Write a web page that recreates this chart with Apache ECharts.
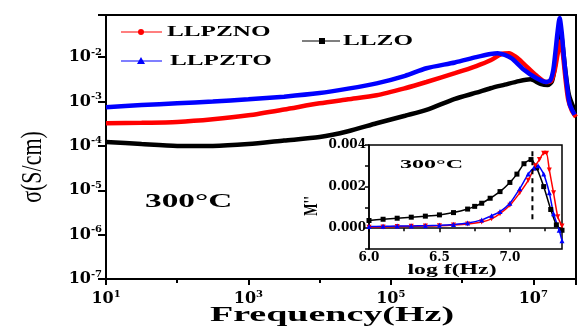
<!DOCTYPE html>
<html>
<head>
<meta charset="utf-8">
<script src="https://cdn.jsdelivr.net/npm/echarts@6/dist/echarts.min.js"></script>
<style>
  html, body { margin: 0; padding: 0; background: #fff; }
  #chart { width: 579px; height: 327px; }
</style>
</head>
<body>
<div id="chart"></div>
<script>
// 主图: log10(f) 与 log10(σ)
const mainLogF = {
  LLPZTO: [1.0, 1.5, 2.0, 2.5, 3.0, 3.5, 4.0, 4.4, 4.8, 5.2, 5.5, 5.9, 6.2, 6.4, 6.5, 6.6, 6.7, 6.86, 7.04, 7.18, 7.24, 7.28, 7.31, 7.34, 7.37, 7.4, 7.43, 7.47, 7.51, 7.58],
  LLPZNO: [1.0, 1.5, 2.0, 2.5, 3.0, 3.5, 4.0, 4.4, 4.8, 5.2, 5.5, 5.9, 6.2, 6.4, 6.55, 6.66, 6.76, 6.86, 7.04, 7.18, 7.25, 7.3, 7.34, 7.38, 7.41, 7.45, 7.49, 7.54, 7.6],
  LLZO:   [1.0, 1.5, 2.0, 2.5, 3.0, 3.5, 4.0, 4.4, 4.8, 5.2, 5.5, 5.9, 6.2, 6.4, 6.6, 6.8, 6.96, 7.1, 7.2, 7.26, 7.3, 7.34, 7.38, 7.41, 7.45, 7.5, 7.58]
};
const mainLogSigma = {
  LLPZTO: [-3.13, -3.08, -3.04, -3.0, -2.95, -2.89, -2.81, -2.71, -2.59, -2.42, -2.25, -2.12, -2.0, -1.93, -1.91, -1.95, -2.03, -2.27, -2.47, -2.56, -2.52, -2.3, -1.9, -1.45, -1.12, -1.45, -2.0, -2.6, -3.05, -3.3],
  LLPZNO: [-3.49, -3.48, -3.46, -3.4, -3.31, -3.18, -3.04, -2.95, -2.86, -2.7, -2.56, -2.36, -2.2, -2.07, -1.93, -1.91, -2.0, -2.14, -2.41, -2.56, -2.54, -2.3, -1.95, -1.65, -1.85, -2.45, -2.95, -3.2, -3.35],
  LLZO:   [-3.91, -3.96, -4.0, -4.0, -3.96, -3.88, -3.8, -3.67, -3.49, -3.32, -3.19, -2.94, -2.8, -2.7, -2.62, -2.54, -2.5, -2.6, -2.63, -2.55, -2.25, -1.75, -1.38, -1.7, -2.3, -2.85, -3.2]
};

// 插图: log f 与 M''
const insetLogF = {
  LLZO:   [6.0, 6.1, 6.2, 6.3, 6.4, 6.5, 6.6, 6.7, 6.75, 6.8, 6.86, 6.93, 7.0, 7.05, 7.1, 7.15, 7.19, 7.24, 7.29, 7.33, 7.37],
  LLPZNO: [6.0, 6.1, 6.2, 6.3, 6.4, 6.5, 6.6, 6.7, 6.8, 6.87, 6.93, 7.0, 7.07, 7.13, 7.18, 7.21, 7.24, 7.26, 7.28, 7.31, 7.34, 7.37],
  LLPZTO: [6.0, 6.1, 6.2, 6.3, 6.4, 6.5, 6.6, 6.7, 6.8, 6.87, 6.93, 7.0, 7.07, 7.13, 7.17, 7.2, 7.24, 7.28, 7.31, 7.35, 7.37]
};
const insetM = {
  LLZO:   [0.00037, 0.00043, 0.00048, 0.00053, 0.00058, 0.00064, 0.00075, 0.00092, 0.00105, 0.0012, 0.00144, 0.00176, 0.0022, 0.0026, 0.0031, 0.0033, 0.0029, 0.002, 0.0009, 0.00016, -0.0001],
  LLPZNO: [0.00005, 0.00006, 0.00008, 0.00009, 0.0001, 0.00012, 0.00015, 0.0002, 0.0003, 0.00045, 0.0007, 0.0011, 0.0017, 0.0023, 0.003, 0.0033, 0.0036, 0.0036, 0.0028, 0.0017, 0.00055, 0.0001],
  LLPZTO: [0.00008, 0.00009, 0.0001, 0.00011, 0.00012, 0.00014, 0.00018, 0.00025, 0.0004, 0.0006, 0.0008, 0.0012, 0.0019, 0.0026, 0.0029, 0.003, 0.0026, 0.0017, 0.0007, -0.0001, -0.0006]
};
const dashLogF = [7.16, 7.16];
const dashM = [0.0037, 0.0004];

const colors = {LLPZNO: "#ff0000", LLPZTO: "#0000ff", LLZO: "#000000"};
const serif = "Liberation Serif";
const tickFont = "DejaVu Serif";

function pairs(xs, ys) {
  return xs.map((x, i) => [x, ys[i]]);
}

function supLabel(v) {
  if (Math.abs(v - Math.round(v)) > 1e-6) return "";
  return "{b|10}{s|" + Math.round(v) + "}";
}
const supRich = {
  b: {fontFamily: tickFont, fontWeight: "bold", fontSize: 16, color: "#000", lineHeight: 20},
  s: {fontFamily: tickFont, fontWeight: "bold", fontSize: 10, color: "#000", verticalAlign: "top", lineHeight: 10}
};

let chart = echarts.init(document.getElementById("chart"));

let series = [];
["LLPZNO", "LLPZTO", "LLZO"].forEach(k => {
  series.push({
    name: k, type: "line", xAxisIndex: 0, yAxisIndex: 0,
    data: pairs(mainLogF[k], mainLogSigma[k]),
    smooth: 0.25, symbol: "none",
    lineStyle: {color: colors[k], width: 4.5},
    z: k === "LLZO" ? 3 : 4
  });
});
let insetSymbols = {LLZO: "rect", LLPZNO: "triangle", LLPZTO: "triangle"};
["LLZO", "LLPZNO", "LLPZTO"].forEach(k => {
  series.push({
    name: k + "_inset", type: "line", xAxisIndex: 1, yAxisIndex: 1,
    data: pairs(insetLogF[k], insetM[k]),
    smooth: 0.2, symbol: insetSymbols[k], symbolSize: 5,
    symbolRotate: k === "LLPZNO" ? 180 : 0,
    itemStyle: {color: colors[k]},
    lineStyle: {color: colors[k], width: 1.5},
    z: 10
  });
});
series.push({
  type: "line", xAxisIndex: 1, yAxisIndex: 1,
  data: pairs(dashLogF, dashM), symbol: "none",
  lineStyle: {color: "#000", width: 2, type: [5, 4]}, z: 11
});

function legendItem(y, x0, x1, mx, sym, color, text, tx) {
  let marker;
  if (sym === "circle") marker = {type: "circle", shape: {cx: mx, cy: y, r: 3}, style: {fill: color}};
  else if (sym === "triangle") marker = {type: "polygon", shape: {points: [[mx, y - 4], [mx - 4, y + 3], [mx + 4, y + 3]]}, style: {fill: color}};
  else marker = {type: "rect", shape: {x: mx - 3, y: y - 3, width: 6, height: 6}, style: {fill: color}};
  return [
    {type: "line", shape: {x1: x0, y1: y, x2: x1, y2: y}, style: {stroke: color, lineWidth: 1.2}},
    marker,
    {type: "text", x: tx, y: y, scaleX: 1.8, style: {text: text, font: "bold 14px " + serif, fill: "#000", textVerticalAlign: "middle"}}
  ];
}

let graphics = []
  .concat(legendItem(32, 121, 162, 141, "circle", colors.LLPZNO, "LLPZNO", 167))
  .concat(legendItem(61, 121, 162, 141, "triangle", colors.LLPZTO, "LLPZTO", 170))
  .concat(legendItem(41, 302, 340, 322, "rect", colors.LLZO, "LLZO", 343));
graphics.push(
  {type: "text", x: 145, y: 202, scaleX: 1.85, style: {text: "300°C", font: "bold 18px " + serif, fill: "#000", textVerticalAlign: "middle"}},
  {type: "text", x: 400, y: 165, scaleX: 1.85, z: 20, style: {text: "300°C", font: "bold 13px " + serif, fill: "#000", textVerticalAlign: "middle"}},
  {type: "text", x: 332, y: 316, scaleX: 1.9, style: {text: "Frequency(Hz)", font: "bold 20px " + serif, fill: "#000", textAlign: "center", textVerticalAlign: "middle"}},
  {type: "text", x: 33, y: 167, rotation: Math.PI / 2, scaleY: 1.3, style: {text: "σ(S/cm)", font: "22px " + serif, fill: "#000", textAlign: "center", textVerticalAlign: "middle"}},
  {type: "text", x: 312, y: 206, rotation: Math.PI / 2, scaleY: 1.4, style: {text: "M''", font: "bold 13px " + serif, fill: "#000", textAlign: "center", textVerticalAlign: "middle"}},
  {type: "text", x: 452, y: 270, scaleX: 1.7, z: 20, style: {text: "log f(Hz)", font: "bold 14px " + serif, fill: "#000", textAlign: "center", textVerticalAlign: "middle"}}
);

chart.setOption({
  animation: false,
  backgroundColor: "#fff",
  grid: [
    {left: 106, top: 15, width: 480, height: 264, show: true, borderColor: "#000", borderWidth: 2, backgroundColor: "transparent"},
    {left: 369, top: 145, width: 193, height: 104, show: true, borderColor: "#000", borderWidth: 1.5, backgroundColor: "#fff", z: 5}
  ],
  xAxis: [
    {
      type: "value", gridIndex: 0, min: 1, max: 7.6, interval: 2,
      splitLine: {show: false},
      axisLine: {lineStyle: {color: "#000", width: 2}},
      axisTick: {length: 6, lineStyle: {color: "#000", width: 2}},
      minorTick: {show: true, splitNumber: 2, length: 4, lineStyle: {color: "#000", width: 2}},
      axisLabel: {margin: 10, formatter: supLabel, rich: supRich}
    },
    {
      type: "value", gridIndex: 1, min: 6.0, max: 7.37, interval: 0.5,
      splitLine: {show: false}, z: 6,
      axisLine: {lineStyle: {color: "#000", width: 1.5}},
      axisTick: {length: 4, lineStyle: {color: "#000", width: 1.5}},
      minorTick: {show: true, splitNumber: 2, length: 3, lineStyle: {color: "#000", width: 1.5}},
      axisLabel: {
        margin: 3, color: "#000", fontFamily: tickFont, fontWeight: "bold", fontSize: 12,
        formatter: v => (Math.abs(v * 2 - Math.round(v * 2)) < 1e-6 ? v.toFixed(1) : "")
      }
    }
  ],
  yAxis: [
    {
      type: "value", gridIndex: 0, min: -7, max: -1.05, interval: 1,
      splitLine: {show: false},
      axisLine: {lineStyle: {color: "#000", width: 2}},
      axisTick: {length: 8, lineStyle: {color: "#000", width: 2}},
      axisLabel: {margin: 4, formatter: supLabel, rich: supRich}
    },
    {
      type: "value", gridIndex: 1, min: -0.001, max: 0.004, interval: 0.001,
      splitLine: {show: false}, z: 6,
      axisLine: {lineStyle: {color: "#000", width: 1.5}},
      axisTick: {length: 4, lineStyle: {color: "#000", width: 1.5}},
      axisLabel: {
        margin: 3, color: "#000", fontFamily: tickFont, fontWeight: "bold", fontSize: 12,
        formatter: v => {
          let n = Math.round(v * 1000);
          return (n >= 0 && n % 2 === 0) ? (n / 1000).toFixed(3) : "";
        }
      }
    }
  ],
  series: series,
  graphic: graphics
});
</script>
</body>
</html>
